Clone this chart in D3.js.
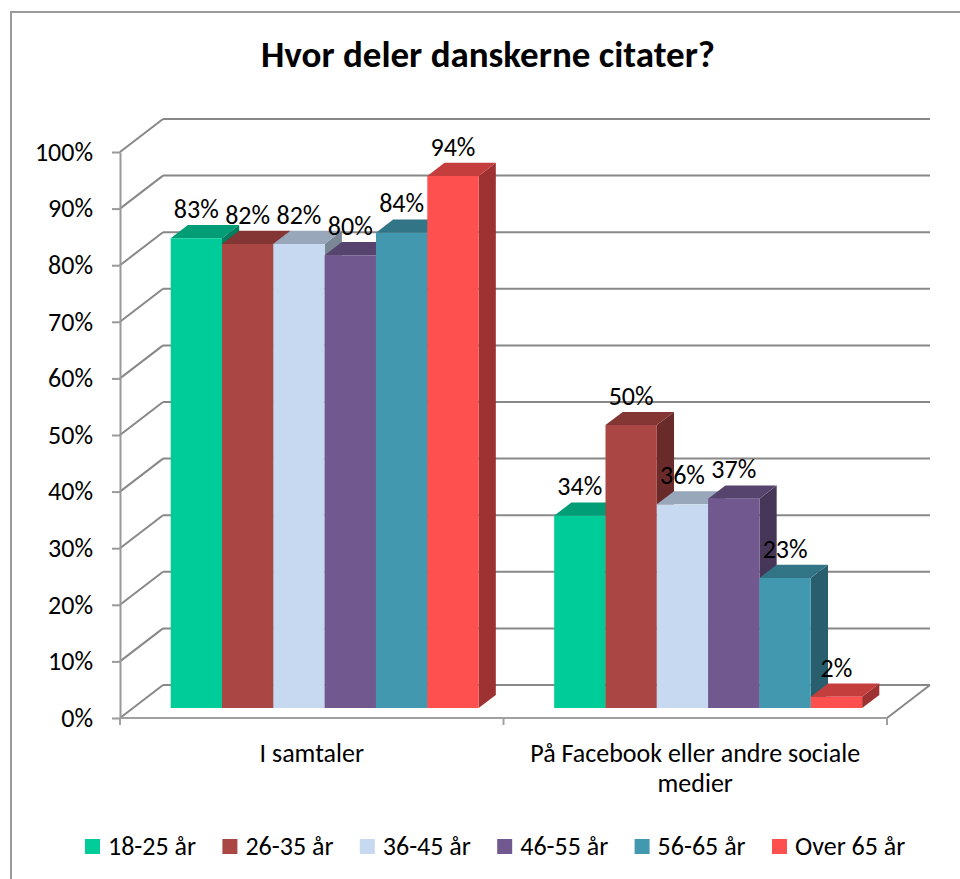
<!DOCTYPE html>
<html>
<head>
<meta charset="utf-8">
<script src="https://cdn.jsdelivr.net/npm/d3@7"></script>
<style>
  body { margin: 0; background: #fff; }
  svg text { font-family: Calibri, Carlito, Lato, sans-serif; fill: #000; }
</style>
</head>
<body>
<svg id="chart"></svg>
<script>
// data
const categories = ["I samtaler", "På Facebook eller andre sociale medier"];
const categoryLines = [["I samtaler"], ["På Facebook eller andre sociale", "medier"]];
const series = ["18-25 år", "26-35 år", "36-45 år", "46-55 år", "56-65 år", "Over 65 år"];
const samtaler = [0.83, 0.82, 0.82, 0.80, 0.84, 0.94];
const facebook = [0.34, 0.50, 0.36, 0.37, 0.23, 0.02];
const yTicks = [0, 0.1, 0.2, 0.3, 0.4, 0.5, 0.6, 0.7, 0.8, 0.9, 1];
const seriesColors = ["#00cc99", "#aa4643", "#c6d9f1", "#71588f", "#4198af", "#ff5050"];

function drawChart() {
  const width = 960;
  const height = 879;
  const fs = 26;

  // 3d offsets for full depth of the plot
  const DX = 43, DY = -33;
  const barD0 = 0.3, barD1 = 0.7;

  const svg = d3.select("#chart")
    .attr("width", width)
    .attr("height", height);

  // outer chart border (only left and top visible)
  svg.append("rect")
    .attr("x", 11).attr("y", 12)
    .attr("width", 1000).attr("height", 1000)
    .attr("fill", "none")
    .attr("stroke", "#9a9a9a")
    .attr("stroke-width", 2);

  const x = d3.scaleBand()
    .domain(categories)
    .range([120, 887]);

  const xInner = d3.scaleBand()
    .domain(series)
    .range([0, x.bandwidth()])
    .paddingOuter(0.736);

  const y = d3.scaleLinear()
    .domain([0, 1])
    .range([718, 152]);

  const pt = (px, v, d) => [px + DX * d, y(v) + DY * d];
  const poly = pts => "M" + pts.map(p => p.join(",")).join("L") + "Z";

  // title
  svg.append("text")
    .attr("x", 488).attr("y", 67)
    .attr("text-anchor", "middle")
    .attr("font-size", 37)
    .attr("font-weight", "bold")
    .text("Hvor deler danskerne citater?");

  const grid = svg.append("g")
    .attr("stroke", "#888")
    .attr("stroke-width", 2)
    .attr("fill", "none");

  // back wall gridlines
  grid.selectAll(".back")
    .data(yTicks)
    .join("line")
    .attr("x1", d => pt(120, d, 1)[0]).attr("y1", d => pt(120, d, 1)[1])
    .attr("x2", d => pt(887, d, 1)[0]).attr("y2", d => pt(887, d, 1)[1]);

  // side wall diagonals
  grid.selectAll(".side")
    .data(yTicks)
    .join("line")
    .attr("x1", d => pt(120, d, 0)[0]).attr("y1", d => pt(120, d, 0)[1])
    .attr("x2", d => pt(120, d, 1)[0]).attr("y2", d => pt(120, d, 1)[1]);

  // floor right edge
  grid.append("line")
    .attr("x1", pt(887, 0, 0)[0]).attr("y1", pt(887, 0, 0)[1])
    .attr("x2", pt(887, 0, 1)[0]).attr("y2", pt(887, 0, 1)[1]);

  // y axis
  const yAxis = svg.append("g")
    .attr("transform", "translate(120,0)")
    .call(d3.axisLeft(y)
      .tickValues(yTicks)
      .tickFormat(d3.format(".0%"))
      .tickSize(8)
      .tickSizeOuter(0)
      .tickPadding(19));
  yAxis.selectAll("path, line").attr("stroke", "#999").attr("stroke-width", 2);
  yAxis.selectAll("text")
    .attr("font-size", fs)
    .style("font-family", "Calibri, Carlito, Lato, sans-serif");

  // x axis line and boundary ticks
  const xg = svg.append("g")
    .attr("stroke", "#a0a0a0")
    .attr("stroke-width", 2);
  xg.append("line")
    .attr("x1", 120).attr("y1", y(0))
    .attr("x2", 887).attr("y2", y(0));
  const edges = categories.map(c => x(c)).concat([x(categories[1]) + x.bandwidth()]);
  xg.selectAll(".tick")
    .data(edges)
    .join("line")
    .attr("x1", d => d).attr("x2", d => d)
    .attr("y1", y(0)).attr("y2", y(0) + 7);

  // category labels
  svg.selectAll(".cat")
    .data(categories)
    .join("text")
    .attr("text-anchor", "middle")
    .attr("font-size", fs)
    .each(function (c, i) {
      const t = d3.select(this);
      categoryLines[i].forEach((line, j) => {
        t.append("tspan")
          .attr("x", x(c) + x.bandwidth() / 2)
          .attr("y", 762 + j * 30)
          .text(line);
      });
    });

  // bars
  const groups = [samtaler, facebook];
  const bars = svg.append("g");
  const labels = svg.append("g");
  groups.forEach((vals, gi) => {
    const cx = x(categories[gi]);
    vals.forEach((v, si) => {
      const x0 = cx + xInner(series[si]);
      const x1 = x0 + xInner.bandwidth();
      const c = d3.color(seriesColors[si]);
      const top = d3.rgb(c.r * 0.77, c.g * 0.77, c.b * 0.77);
      const side = d3.rgb(c.r * 0.62, c.g * 0.62, c.b * 0.62);

      bars.append("path")
        .attr("d", poly([pt(x1, 0, barD0), pt(x1, 0, barD1), pt(x1, v, barD1), pt(x1, v, barD0)]))
        .attr("fill", side);
      bars.append("path")
        .attr("d", poly([pt(x0, v, barD0), pt(x1, v, barD0), pt(x1, v, barD1), pt(x0, v, barD1)]))
        .attr("fill", top);
      bars.append("path")
        .attr("d", poly([pt(x0, 0, barD0), pt(x1, 0, barD0), pt(x1, v, barD0), pt(x0, v, barD0)]))
        .attr("fill", c);

      labels.append("text")
        .attr("x", pt((x0 + x1) / 2, v, barD0)[0])
        .attr("y", pt(x0, v, barD1)[1] - 7)
        .attr("text-anchor", "middle")
        .attr("font-size", fs)
        .text(d3.format(".0%")(v));
    });
  });

  // legend
  const legend = svg.append("g")
    .attr("transform", "translate(85,839)");
  const item = legend.selectAll("g")
    .data(series)
    .join("g")
    .attr("transform", (d, i) => `translate(${i * 137.4},0)`);
  item.append("rect")
    .attr("width", 15).attr("height", 15)
    .attr("fill", (d, i) => seriesColors[i]);
  item.append("text")
    .attr("x", 23).attr("y", 16)
    .attr("font-size", fs)
    .text(d => d);
}

drawChart();
</script>
</body>
</html>
